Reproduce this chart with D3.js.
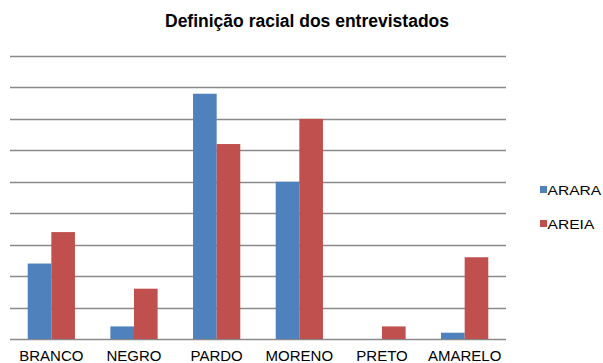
<!DOCTYPE html>
<html>
<head>
<meta charset="utf-8">
<script src="https://cdn.jsdelivr.net/npm/d3@7"></script>
<style>
  html, body { margin: 0; padding: 0; background: #fff; }
  svg { display: block; }
  text { font-family: "Liberation Sans", Arial, sans-serif; fill: #000; }
</style>
</head>
<body>
<svg id="chart" width="603" height="363"></svg>
<script>
// Racial self-identification counts for the two communities
const categories = ["BRANCO", "NEGRO", "PARDO", "MORENO", "PRETO", "AMARELO"];
const seriesNames = ["ARARA", "AREIA"];
const araraValues = [12, 2, 39, 25, 0, 1];
const areiaValues = [17, 8, 31, 35, 2, 13];
const yTicks = [0, 5, 10, 15, 20, 25, 30, 35, 40, 45];
const colors = ["#4F81BD", "#C0504D"];

const svg = d3.select("#chart");
const plot = { left: 10, right: 506, top: 56, bottom: 339 };

// Bar pair takes 2 units of each slot, the gap 1.5 units
const x0 = d3.scaleBand()
  .domain(categories)
  .range([plot.left, plot.right])
  .paddingInner(1.5 / 3.5)
  .paddingOuter(0.75 / 3.5);

const x1 = d3.scaleBand()
  .domain(seriesNames)
  .range([0, x0.bandwidth()]);

const y = d3.scaleLinear()
  .domain([0, 45])
  .range([plot.bottom, plot.top]);

// Horizontal gridlines
svg.append("g")
  .selectAll("line")
  .data(yTicks)
  .join("line")
  .attr("x1", plot.left)
  .attr("x2", plot.right)
  .attr("y1", d => Math.round(y(d)) + 0.5)
  .attr("y2", d => Math.round(y(d)) + 0.5)
  .attr("stroke", "#8a8a8a")
  .attr("stroke-width", 1.4);

// Grouped bars
const rows = categories.map((c, i) => ({ cat: c, values: [araraValues[i], areiaValues[i]] }));
svg.append("g")
  .selectAll("g")
  .data(rows)
  .join("g")
  .attr("transform", d => `translate(${x0(d.cat)},0)`)
  .selectAll("rect")
  .data(d => d.values.map((v, j) => ({ name: seriesNames[j], v, j })))
  .join("rect")
  .attr("x", d => x1(d.name))
  .attr("width", x1.bandwidth())
  .attr("y", d => y(d.v))
  .attr("height", d => y(0) - y(d.v))
  .attr("fill", d => colors[d.j]);

// Category axis
const xAxis = svg.append("g")
  .attr("transform", `translate(0,${plot.bottom})`)
  .call(d3.axisBottom(x0).tickSize(0).tickPadding(0));
xAxis.select(".domain").remove();
xAxis.selectAll("text")
  .attr("dy", null)
  .attr("y", 22)
  .attr("font-size", 15)
  .attr("fill", "#111")
  .style("font-family", "'Liberation Sans', Arial, sans-serif");

// Title
svg.append("text")
  .attr("x", 307)
  .attr("y", 27)
  .attr("text-anchor", "middle")
  .attr("font-size", 17.5)
  .attr("font-weight", "bold")
  .attr("fill", "#111")
  .text("Definição racial dos entrevistados");

// Legend
const legend = svg.append("g").attr("transform", "translate(540,185)");
seriesNames.forEach((name, i) => {
  const g = legend.append("g").attr("transform", `translate(0,${i * 34})`);
  g.append("rect").attr("width", 7).attr("height", 7).attr("y", 1).attr("fill", colors[i]);
  g.append("text")
    .attr("transform", "translate(7.5,10) scale(1.3,1)")
    .attr("font-size", 12)
    .attr("fill", "#111")
    .text(name);
});
</script>
</body>
</html>
